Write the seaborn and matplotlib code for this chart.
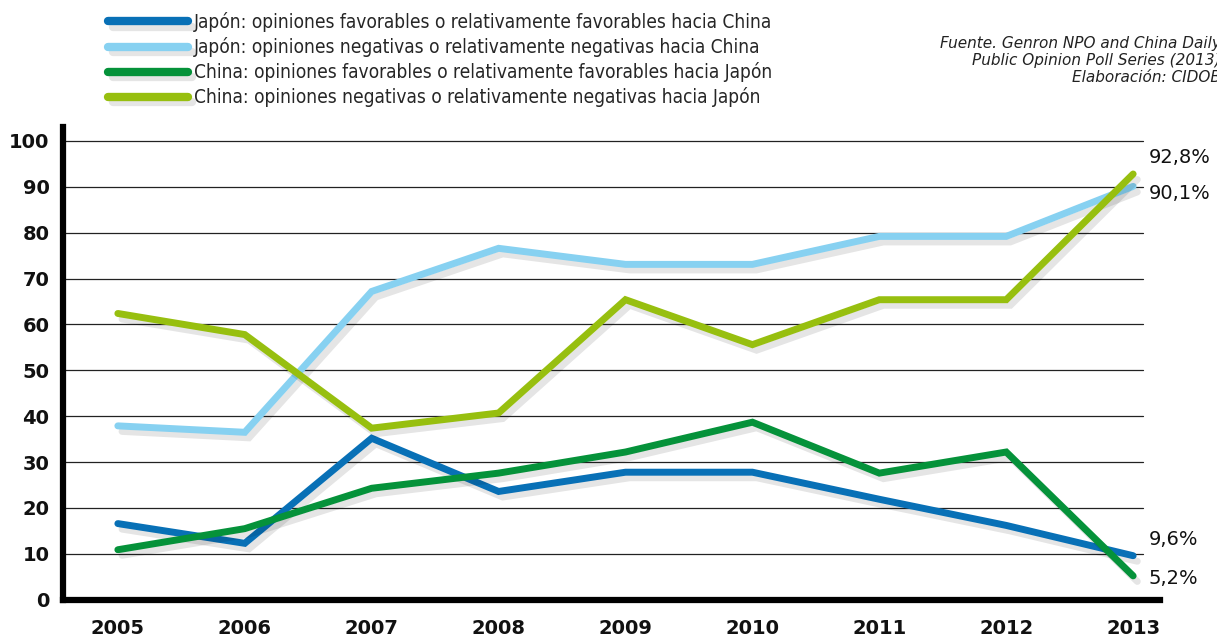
import pandas as pd
import seaborn as sns
import matplotlib.pyplot as plt
import matplotlib.patheffects as pe

years = [2005, 2006, 2007, 2008, 2009, 2010, 2011, 2012, 2013]
jp_favorable = [16.6, 12.3, 35.2, 23.6, 27.8, 27.8, 21.9, 16.2, 9.6]
jp_negative = [37.9, 36.5, 67.2, 76.6, 73.1, 73.1, 79.2, 79.2, 90.1]
cn_favorable = [10.9, 15.5, 24.3, 27.6, 32.2, 38.7, 27.6, 32.2, 5.2]
cn_negative = [62.4, 57.8, 37.4, 40.7, 65.4, 55.6, 65.4, 65.4, 92.8]

series_names = [
    'Japón: opiniones favorables o relativamente favorables hacia China',
    'Japón: opiniones negativas o relativamente negativas hacia China',
    'China: opiniones favorables o relativamente favorables hacia Japón',
    'China: opiniones negativas o relativamente negativas hacia Japón',
]
colors = ['#0870b6', '#87d1f1', '#05923a', '#97bf0f']
end_labels = ['9,6%', '90,1%', '5,2%', '92,8%']
end_offsets = [(11, 12), (11, -5), (11, -2), (11, 12)]

rows = []
for name, vals in zip(series_names, [jp_favorable, jp_negative, cn_favorable, cn_negative]):
    for y, v in zip(years, vals):
        rows.append({'Año': y, 'Valor': v, 'Serie': name})
df = pd.DataFrame(rows)

sns.set_style('white')
plt.rcParams['font.family'] = ['DejaVu Sans']

fig = plt.figure(figsize=(12.17, 6.36), dpi=100)
ax = fig.add_axes([0.052, 0.057, 0.901, 0.743])

sns.lineplot(data=df, x='Año', y='Valor', hue='Serie', hue_order=series_names,
             palette=colors, linewidth=5, ax=ax, legend=True)

shadow = [pe.SimpleLineShadow(offset=(3, -4), shadow_color='k', alpha=0.1), pe.Normal()]
for line in ax.get_lines():
    line.set_solid_capstyle('round')
    line.set_solid_joinstyle('miter')
    line.set_path_effects(shadow)

ax.set_xlim(2004.57, 2013.21)
ax.set_ylim(0, 103)
ax.set_yticks(range(0, 101, 10))
ax.set_xticks(years)
ax.set_xticklabels([str(y) for y in years])
ax.set_xlabel('')
ax.set_ylabel('')
ax.tick_params(axis='both', length=0, labelsize=14, colors='#111111')
ax.tick_params(axis='y', pad=10)
ax.tick_params(axis='x', pad=14)
for lab in ax.get_xticklabels() + ax.get_yticklabels():
    lab.set_fontweight('bold')

for y in range(10, 101, 10):
    ax.axhline(y, xmin=0, xmax=0.985, color='#222222', linewidth=0.9, zorder=0)

for side in ['top', 'right']:
    ax.spines[side].set_visible(False)
for side in ['left', 'bottom']:
    ax.spines[side].set_linewidth(4.5)
    ax.spines[side].set_color('black')

series_vals = [jp_favorable, jp_negative, cn_favorable, cn_negative]
for vals, lab, off in zip(series_vals, end_labels, end_offsets):
    ax.annotate(lab, xy=(years[-1], vals[-1]), xytext=off, textcoords='offset points',
                ha='left', va='center', fontsize=14, color='#111111')

handles, labels = ax.get_legend_handles_labels()
ax.get_legend().remove()
for h in handles:
    h.set_linewidth(6)
    h.set_solid_capstyle('round')
    h.set_path_effects(shadow)
fig.legend(handles, labels, loc='upper left', bbox_to_anchor=(0.075, 1.008),
           frameon=False, handlelength=4.2, handletextpad=0.3, labelspacing=0.27,
           prop={'family': 'DejaVu Sans', 'stretch': 'condensed', 'size': 13.7})

fig.text(1.003, 0.905, 'Fuente. Genron NPO and China Daily\nPublic Opinion Poll Series (2013)\nElaboración: CIDOB',
         ha='right', va='center', fontsize=11, style='italic', color='#222222',
         linespacing=1.2)

fig.savefig('out.png', dpi=100)
